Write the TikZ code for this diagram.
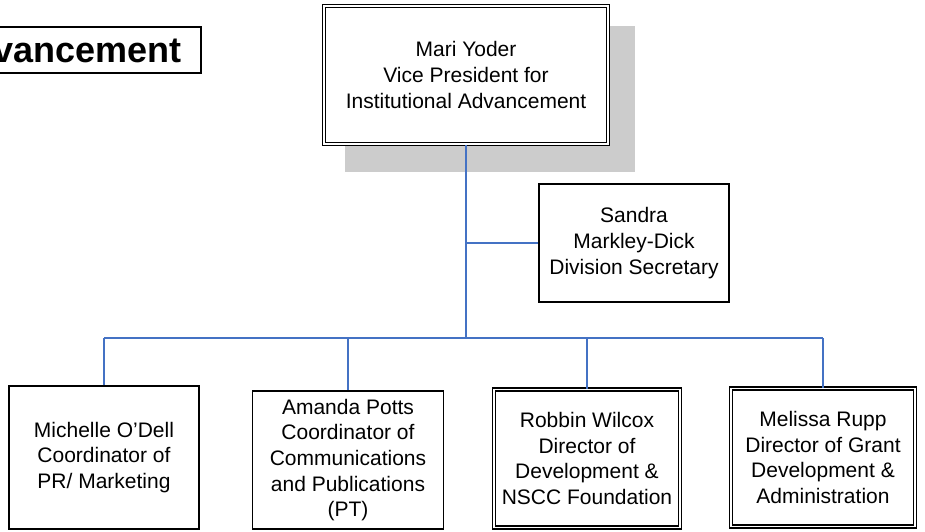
\documentclass[tikz,border=0pt]{standalone}
\usepackage{fontspec}
\setmainfont{Liberation Sans}
\definecolor{linkblue}{HTML}{4472C4}
\definecolor{shadegray}{HTML}{CCCCCC}

\begin{document}
\begin{tikzpicture}[x=1pt, y=-1pt,
		person/.style={draw, line width=1.8pt, fill=white, align=center, inner sep=0pt,
			font=\fontsize{21}{25.6}\selectfont},
		chief/.style={person, line width=1.5pt, double, double distance=1.6pt},
		link/.style={draw=linkblue, line width=1.8pt}]
	\clip (0,0) rectangle (925,531);
	% title, cut at the left edge
	\node[draw, line width=2pt, anchor=east, inner xsep=19pt, inner ysep=0pt, minimum height=46pt,
		font=\bfseries\fontsize{36}{40}\selectfont] (ttl) at (201.5,50) {Advancement};
	% shadow behind the top box
	\fill[shadegray] (345,26) rectangle (635,172);
	\node[chief, minimum width=284pt, minimum height=138pt] (vp) at (466,75)
		{Mari Yoder\\Vice President for\\Institutional Advancement};
	\node[person, minimum width=190pt, minimum height=118pt] (sec) at (634,243)
		{Sandra\\Markley-Dick\\Division Secretary};
	\node[person, minimum width=190pt, minimum height=143pt] (mich) at (104,457.5)
		{Michelle O'Dell\\Coordinator of\\PR/ Marketing};
	\node[person, minimum width=191pt, minimum height=138pt] (aman) at (348,460)
		{Amanda Potts\\Coordinator of\\Communications\\and Publications\\(PT)};
	\node[chief, minimum width=186pt, minimum height=138pt] (robb) at (587,458.5)
		{Robbin Wilcox\\Director of\\Development \&\\NSCC Foundation};
	\node[chief, minimum width=184pt, minimum height=138pt] (meli) at (823,457.3)
		{Melissa Rupp\\Director of Grant\\Development \&\\Administration};
	\coordinate (bus) at (466,338);
	% connectors
	\draw[link] (vp.south) -- (bus);
	\draw[link] (vp.south |- sec.west) -- (sec.west);
	\draw[link] (mich.north |- bus) -- (meli.north |- bus);
	\foreach \n in {mich,aman,robb,meli}
		\draw[link] (\n.north |- bus) -- (\n.north);
\end{tikzpicture}
\end{document}
